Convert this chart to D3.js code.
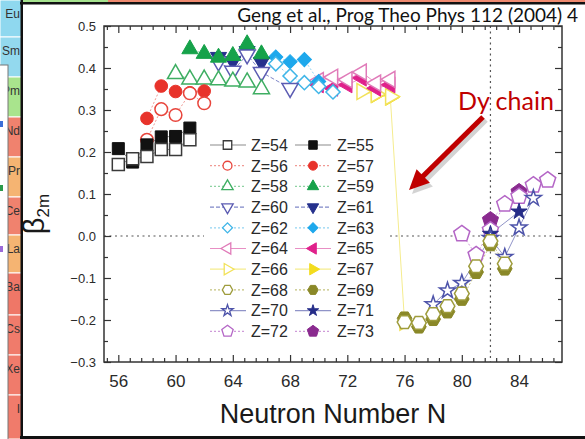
<!DOCTYPE html>
<html>
<head>
<meta charset="utf-8">
<script src="https://cdn.jsdelivr.net/npm/d3@7"></script>
<style>
  html, body { margin: 0; padding: 0; background: #fff; }
  svg { display: block; }
</style>
</head>
<body>
<svg id="chart" width="585" height="439"></svg>
<script>
// Ground-state quadrupole deformation beta_2m along the isotopic chains Z = 54 ... 73
// Each chain: [neutron number N, beta_2m]
const z54 = [[56,0.170],[57,0.184],[58,0.189],[59,0.206],[60,0.206],[61,0.229]];
const z55 = [[56,0.208],[57,0.176],[58,0.217],[59,0.236],[60,0.237],[61,0.257]];
const z56 = [[58,0.229],[59,0.302],[60,0.288],[61,0.340],[62,0.316]];
const z57 = [[58,0.280],[59,0.357],[60,0.344],[61,0.341],[62,0.345]];
const z58 = [[60,0.386],[61,0.373],[62,0.373],[63,0.371],[64,0.368],[65,0.366],[66,0.350]];
const z59 = [[61,0.445],[62,0.434],[63,0.425],[64,0.429],[65,0.457],[66,0.433]];
const z60 = [[63,0.415],[64,0.393],[65,0.432],[66,0.390],[68,0.352]];
const z61 = [[63,0.426],[64,0.416],[65,0.440],[66,0.414]];
const z62 = [[67,0.410],[68,0.381],[69,0.365],[70,0.356],[71,0.343]];
const z63 = [[67,0.426],[68,0.415],[69,0.420],[70,0.368]];
const z64 = [[70,0.370],[71,0.378],[72,0.372],[73,0.390],[74,0.364],[75,0.373]];
const z65 = [[70,0.360],[71,0.352],[72,0.360],[73,0.376],[74,0.352],[75,0.360]];
const z66 = [[73,0.344],[74,0.338],[75,0.332],[76,-0.205]];
const z67 = [[74,0.336],[75,0.330]];
const z68 = [[76,-0.205],[77,-0.207],[78,-0.186],[79,-0.167],[80,-0.137],[81,-0.072],[82,-0.012],[83,-0.066]];
const z69 = [[76,-0.196],[77,-0.216],[78,-0.198],[79,-0.180],[80,-0.150],[81,-0.086],[82,-0.020],[83,-0.078]];
const z70 = [[78,-0.163],[79,-0.130],[80,-0.112],[82,-0.005],[83,-0.050],[84,0.020],[85,0.090]];
const z71 = [[82,0.005],[84,0.058]];
const z72 = [[80,0.005],[81,-0.045],[82,0.014],[83,0.076],[84,0.094],[85,0.121],[86,0.133]];
const z73 = [[82,0.038],[84,0.105]];

const chains = { 54: z54, 55: z55, 56: z56, 57: z57, 58: z58, 59: z59, 60: z60, 61: z61,
  62: z62, 63: z63, 64: z64, 65: z65, 66: z66, 67: z67, 68: z68, 69: z69,
  70: z70, 71: z71, 72: z72, 73: z73 };

const xMajorTicks = [56, 60, 64, 68, 72, 76, 80, 84];
const yMajorTicks = [-0.3, -0.2, -0.1, 0.0, 0.1, 0.2, 0.3, 0.4, 0.5];
const shellClosureN = 82;

// Custom marker outlines
const symbolPentagon = {
  draw(ctx, size) {
    const r = Math.sqrt(size / 2.3776);
    for (let i = 0; i < 5; i++) {
      const a = -Math.PI / 2 + i * 2 * Math.PI / 5;
      const px = r * Math.cos(a), py = r * Math.sin(a);
      if (i) ctx.lineTo(px, py); else ctx.moveTo(px, py);
    }
    ctx.closePath();
  }
};
const symbolHexagon = {
  draw(ctx, size) {
    const r = Math.sqrt(size / 2.598);
    for (let i = 0; i < 6; i++) {
      const a = i * Math.PI / 3;
      const px = r * Math.cos(a), py = r * Math.sin(a);
      if (i) ctx.lineTo(px, py); else ctx.moveTo(px, py);
    }
    ctx.closePath();
  }
};

// Marker kinds: d3 symbol type, area, rotation
const markerKinds = {
  square:   { type: d3.symbolSquare,   size: 144, rot: 0 },
  circle:   { type: d3.symbolCircle,   size: 125, rot: 0 },
  triUp:    { type: d3.symbolTriangle, size: 112, rot: 0 },
  triDown:  { type: d3.symbolTriangle, size: 112, rot: 180 },
  triLeft:  { type: d3.symbolTriangle, size: 112, rot: -90 },
  triRight: { type: d3.symbolTriangle, size: 112, rot: 90 },
  diamond:  { type: d3.symbolSquare,   size: 100, rot: 45 },
  hexagon:  { type: symbolHexagon,     size: 140, rot: 0 },
  star:     { type: d3.symbolStar,     size: 80,  rot: 0 },
  pentagon: { type: symbolPentagon,    size: 170, rot: 0 }
};

// Per-chain styling: marker, open/filled, marker colour, line colour, dash
const styles = {
  54: { kind: 'square',   open: true,  color: '#3a3a3a', line: '#8c8c8c', dash: null },
  55: { kind: 'square',   open: false, color: '#111111', line: '#8c8c8c', dash: null },
  56: { kind: 'circle',   open: true,  color: '#e8453c', line: '#f09a94', dash: '2,2' },
  57: { kind: 'circle',   open: false, color: '#e8332b', line: '#f09a94', dash: '2,2' },
  58: { kind: 'triUp',    open: true,  color: '#3eae62', line: '#8ed2a2', dash: '2,2' },
  59: { kind: 'triUp',    open: false, color: '#16a24a', line: '#8ed2a2', dash: '2,2' },
  60: { kind: 'triDown',  open: true,  color: '#5b5bb2', line: '#8088c8', dash: '4,2' },
  61: { kind: 'triDown',  open: false, color: '#25308c', line: '#8088c8', dash: '4,2' },
  62: { kind: 'diamond',  open: true,  color: '#40b6e8', line: '#92d4f2', dash: '2,2' },
  63: { kind: 'diamond',  open: false, color: '#1ea8ec', line: '#92d4f2', dash: '2,2' },
  64: { kind: 'triLeft',  open: true,  color: '#e07bb9', line: '#e88fc4', dash: null },
  65: { kind: 'triLeft',  open: false, color: '#e0218b', line: '#e88fc4', dash: null },
  66: { kind: 'triRight', open: true,  color: '#f2e25a', line: '#f5ec8e', dash: null },
  67: { kind: 'triRight', open: false, color: '#f3dc1e', line: '#f5ec8e', dash: null },
  68: { kind: 'hexagon',  open: true,  color: '#9e9c3c', line: '#c4c27e', dash: '2,2' },
  69: { kind: 'hexagon',  open: false, color: '#8a8828', line: '#c4c27e', dash: '2,2' },
  70: { kind: 'star',     open: true,  color: '#4e54aa', line: '#9094c8', dash: null },
  71: { kind: 'star',     open: false, color: '#252c88', line: '#9094c8', dash: null },
  72: { kind: 'pentagon', open: true,  color: '#b466c6', line: '#cf9bd9', dash: '2,2' },
  73: { kind: 'pentagon', open: false, color: '#8a2a8f', line: '#cf9bd9', dash: '2,2' }
};

// Order in which chains are painted (later ones sit on top)
const paintOrder = [67, 66, 73, 72, 71, 70, 69, 68, 65, 64, 63, 62, 61, 60, 59, 58, 57, 56, 55, 54];
const legendPairs = [[54,55],[56,57],[58,59],[60,61],[62,63],[64,65],[66,67],[68,69],[70,71],[72,73]];

const svg = d3.select('#chart');
const FONT = "'Liberation Sans', Arial, Helvetica, sans-serif";
const SLIDE_FONT = "Lato, 'Open Sans', sans-serif";

// ---------- slide surroundings ----------
const cells = [
  [0, 37, '#8fd8ef', 'Eu'], [37, 77, '#93d9ee', 'Sm'], [77, 117, '#a9e48d', 'Pm'],
  [117, 157, '#f0826e', 'Nd'], [157, 197, '#f5b472', 'Pr'], [197, 235, '#f0826e', 'Ce'],
  [235, 273, '#f5b472', 'La'], [273, 315, '#ef7767', 'Ba'], [315, 355, '#f07b6b', 'Cs'],
  [355, 395, '#f07b6b', 'Xe'], [395, 439, '#f07b6b', 'I']
];
const side = svg.append('g');
side.selectAll('rect').data(cells).join('rect')
  .attr('x', 0).attr('y', d => d[0]).attr('width', 22).attr('height', d => d[1] - d[0])
  .attr('fill', d => d[2]).attr('stroke', '#fff').attr('stroke-width', 1);
side.selectAll('text').data(cells).join('text')
  .attr('x', 20).attr('y', d => d[0] + 18).attr('text-anchor', 'end')
  .attr('font-family', FONT).attr('font-size', 12).attr('fill', '#333').text(d => d[3]);
side.append('rect').attr('x', -2).attr('y', 65).attr('width', 10).attr('height', 380)
  .attr('fill', '#fff').attr('stroke', '#777').attr('stroke-width', 1);
[[121, '#3a6fd8'], [185, '#2a9a4a'], [246, '#9a6ad8']].forEach(([yy, c]) =>
  side.append('rect').attr('x', 0).attr('y', yy).attr('width', 3).attr('height', 6).attr('fill', c));

svg.append('rect').attr('x', 23).attr('y', 0).attr('width', 85).attr('height', 2).attr('fill', '#a6e38f');
svg.append('rect').attr('x', 108).attr('y', 0).attr('width', 477).attr('height', 2).attr('fill', '#ef8a70');
svg.append('rect').attr('x', 20).attr('y', 2).attr('width', 565).attr('height', 2.5).attr('fill', '#111');
svg.append('rect').attr('x', 20.5).attr('y', 0).attr('width', 2.5).attr('height', 439).attr('fill', '#111');
svg.append('rect').attr('x', 20).attr('y', 436).attr('width', 565).attr('height', 3).attr('fill', '#111');

// ---------- plot ----------
const plotL = 104, plotR = 562, plotT = 26, plotB = 362;
const x = d3.scaleLinear().domain([55, 87]).range([plotL, plotR]);
const y = d3.scaleLinear().domain([-0.3, 0.5]).range([plotB, plotT]);

const xMinorTicks = d3.range(55.2, 87, 0.8).filter(v => !xMajorTicks.some(m => Math.abs(m - v) < 1e-6));
const yMinorTicks = d3.range(-0.25, 0.5, 0.1);

// reference lines: beta = 0 and N = 82
svg.append('line').attr('x1', plotL).attr('x2', plotR).attr('y1', y(0)).attr('y2', y(0))
  .attr('stroke', '#555').attr('stroke-width', 1.2).attr('stroke-dasharray', '2,3.5');
svg.append('line').attr('x1', x(shellClosureN)).attr('x2', x(shellClosureN)).attr('y1', plotT).attr('y2', plotB)
  .attr('stroke', '#555').attr('stroke-width', 1.2).attr('stroke-dasharray', '2,3.5');

// axes with inward ticks
function styleAxis(g) {
  g.select('.domain').remove();
  g.selectAll('.tick line').attr('stroke', '#333').attr('stroke-width', 1.2);
}
const axisMakers = [
  () => d3.axisBottom(x), () => d3.axisTop(x), () => d3.axisLeft(y), () => d3.axisRight(y)
];
const axisDefs = [
  { at: `translate(0,${plotB})`, majors: xMajorTicks, minors: xMinorTicks, labels: true },
  { at: `translate(0,${plotT})`, majors: xMajorTicks, minors: xMinorTicks, labels: false },
  { at: `translate(${plotL},0)`, majors: yMajorTicks, minors: yMinorTicks, labels: true },
  { at: `translate(${plotR},0)`, majors: yMajorTicks, minors: yMinorTicks, labels: false }
];
axisDefs.forEach((a, i) => {
  const isX = i < 2;
  const major = axisMakers[i]().tickValues(a.majors).tickSizeInner(-7).tickSizeOuter(0)
    .tickPadding(isX ? 13 : 8)
    .tickFormat(a.labels ? (isX ? d3.format('d') : d3.format('.1f')) : '');
  const gMaj = svg.append('g').attr('transform', a.at).call(major);
  styleAxis(gMaj);
  gMaj.selectAll('text').attr('font-family', FONT).attr('font-size', isX ? 17 : 13).attr('fill', '#2a2a2a');
  const minor = axisMakers[i]().tickValues(a.minors).tickSizeInner(-4).tickSizeOuter(0).tickFormat('');
  const gMin = svg.append('g').attr('transform', a.at).call(minor);
  styleAxis(gMin);
});

// frame
svg.append('rect').attr('x', plotL).attr('y', plotT).attr('width', plotR - plotL).attr('height', plotB - plotT)
  .attr('fill', 'none').attr('stroke', '#333').attr('stroke-width', 1.5);

// connecting lines
const line = d3.line().x(d => x(d[0])).y(d => y(d[1]));
const linesG = svg.append('g');
paintOrder.forEach(z => {
  const st = styles[z];
  linesG.append('path').datum(chains[z]).attr('d', line)
    .attr('fill', 'none').attr('stroke', st.line).attr('stroke-width', 1)
    .attr('stroke-dasharray', st.dash);
});

// markers
function markerPath(kind, scale) {
  const mk = markerKinds[kind];
  return d3.symbol().type(mk.type).size(mk.size * scale)();
}
const marksG = svg.append('g');
paintOrder.forEach(z => {
  const st = styles[z];
  const mk = markerKinds[st.kind];
  marksG.append('g').selectAll('path').data(chains[z]).join('path')
    .attr('d', markerPath(st.kind, 1))
    .attr('transform', d => `translate(${x(d[0])},${y(d[1])}) rotate(${mk.rot})`)
    .attr('fill', st.open ? '#fff' : st.color)
    .attr('stroke', st.color)
    .attr('stroke-width', st.open ? 1.5 : 1);
});

// legend
const legend = svg.append('g');
legend.append('rect').attr('x', 204).attr('y', 134).attr('width', 186).attr('height', 208).attr('fill', '#fff');
const rowH = 20.7, row0 = 145;
const cols = [{ lx: 210, mx: 227.5, tx: 251 }, { lx: 295, mx: 313, tx: 337 }];
legendPairs.forEach((pair, r) => {
  pair.forEach((z, c) => {
    const st = styles[z], col = cols[c], cy = row0 + r * rowH;
    const mk = markerKinds[st.kind];
    legend.append('line').attr('x1', col.lx).attr('x2', col.lx + 36).attr('y1', cy).attr('y2', cy)
      .attr('stroke', st.line).attr('stroke-width', 1.2).attr('stroke-dasharray', st.dash);
    legend.append('path').attr('d', markerPath(st.kind, 0.5))
      .attr('transform', `translate(${col.mx},${cy}) rotate(${mk.rot})`)
      .attr('fill', st.open ? '#fff' : st.color).attr('stroke', st.color)
      .attr('stroke-width', st.open ? 1.3 : 1);
    legend.append('text').attr('x', col.tx).attr('y', cy + 5.8)
      .attr('font-family', FONT).attr('font-size', 16).attr('fill', '#2a2a2a').text(`Z=${z}`);
  });
});

// axis titles
svg.append('text').attr('x', 333).attr('y', 423).attr('text-anchor', 'middle')
  .attr('font-family', FONT).attr('font-size', 27).attr('fill', '#1a1a1a').text('Neutron Number N');
const yt = svg.append('text').attr('transform', 'translate(44,214) rotate(-90)').attr('text-anchor', 'middle')
  .attr('font-family', FONT).attr('fill', '#1a1a1a');
yt.append('tspan').attr('font-size', 29).text('β');
yt.append('tspan').attr('font-size', 17).attr('dy', 5).text('2m');

// citation
svg.append('text').attr('x', 578).attr('y', 22).attr('text-anchor', 'end')
  .attr('font-family', SLIDE_FONT).attr('font-size', 19).attr('fill', '#111')
  .text('Geng et al., Prog Theo Phys 112 (2004) 4');

// Dy chain annotation with arrow
svg.append('text').attr('x', 458).attr('y', 110)
  .attr('font-family', SLIDE_FONT).attr('font-size', 25).attr('fill', '#c00000')
  .text('Dy chain');
function arrow(g, x0, y0, x1, y1, color, w) {
  const dx = x1 - x0, dy = y1 - y0, len = Math.hypot(dx, dy);
  const ux = dx / len, uy = dy / len, hl = 20, hw = 9.5;
  const bx = x1 - ux * hl, by = y1 - uy * hl;
  g.append('line').attr('x1', x0).attr('y1', y0).attr('x2', bx + ux * 2).attr('y2', by + uy * 2)
    .attr('stroke', color).attr('stroke-width', w);
  g.append('path').attr('d', `M${x1},${y1}L${bx - uy * hw},${by + ux * hw}L${bx + uy * hw},${by - ux * hw}Z`)
    .attr('fill', color);
}
const shadow = svg.append('g').attr('opacity', 0.25);
arrow(shadow, 486, 120, 412, 194, '#555', 5);
arrow(svg.append('g'), 483, 117, 409, 190, '#c00000', 5);
</script>
</body>
</html>
